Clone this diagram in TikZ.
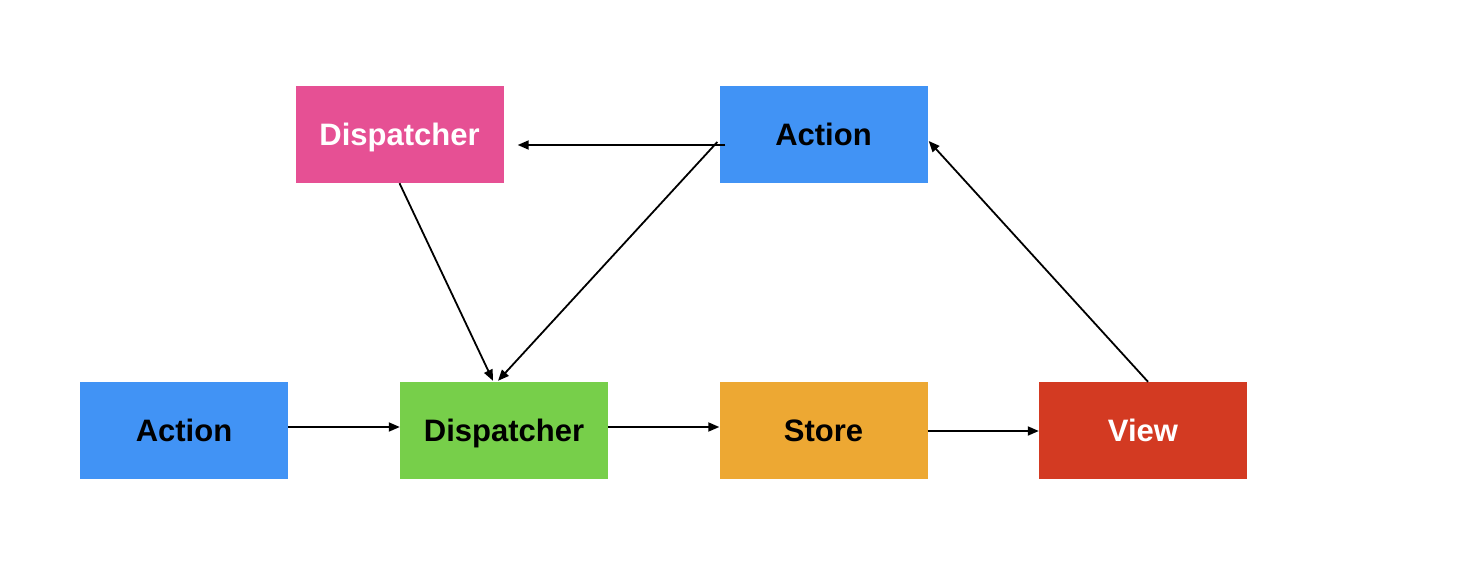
\documentclass[tikz,border=0pt]{standalone}
\usepackage{fontspec}
\setmainfont{Liberation Sans}
\usetikzlibrary{arrows.meta,calc}
\definecolor{cpink}{HTML}{E65094}
\definecolor{cblue}{HTML}{4193F5}
\definecolor{cgreen}{HTML}{77CF4A}
\definecolor{corange}{HTML}{EDA833}
\definecolor{cred}{HTML}{D33A22}
\tikzset{
  box/.style={rectangle, minimum width=208pt, minimum height=97pt, inner sep=0pt,
    text height=22pt, text depth=0pt,
    font=\fontsize{31}{36}\selectfont\bfseries},
  arr/.style={line width=1.8pt, -{Triangle[length=11pt,width=9pt]}}
}
\begin{document}
\begin{tikzpicture}[x=1pt,y=-1pt]
\useasboundingbox[fill=white] (0,0) rectangle (1482,578);
\node[box, fill=cpink, text=white] (pinkD) at (399.5,134.5) {Dispatcher};
\node[box, fill=cblue, text=black] (topA) at (823.5,134.5) {Action};
\node[box, fill=cblue, text=black] (botA) at (184,430.5) {Action};
\node[box, fill=cgreen, text=black] (greenD) at (504,430.5) {Dispatcher};
\node[box, fill=corange, text=black] (store) at (823.5,430.5) {Store};
\node[box, fill=cred, text=white] (view) at (1143,430.5) {View};
\coordinate (a1s) at ($(topA.west)+(6,10.5)$);
\coordinate (a1e) at ($(pinkD.east)+(14,10.5)$);
\coordinate (a2s) at ($(topA.west)+(-2,7.5)$);
\coordinate (a2e) at ($(greenD.north)+(-6,-1)$);
\coordinate (a3e) at ($(greenD.north)+(-11,-1)$);
\coordinate (a4s) at ($(view.north)+(5,0)$);
\coordinate (a4e) at ($(topA.east)+(1,6.5)$);
\draw[arr] (a1s) -- (a1e);
\draw[arr] (a2s) -- (a2e);
\draw[arr] (pinkD.south) -- (a3e);
\draw[arr] ($(botA.east)+(0,-3.5)$) -- ($(greenD.west)+(0,-3.5)$);
\draw[arr] ($(greenD.east)+(0,-3.5)$) -- ($(store.west)+(0,-3.5)$);
\draw[arr] ($(store.east)+(0,0.5)$) -- ($(view.west)+(0,0.5)$);
\draw[arr] (a4s) -- (a4e);
\end{tikzpicture}
\end{document}
